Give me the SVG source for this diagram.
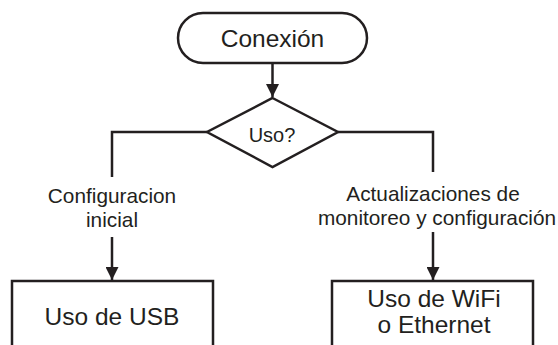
<svg xmlns="http://www.w3.org/2000/svg" width="558" height="345" viewBox="0 0 558 345">
<style>
.s{fill:#fff;stroke:#231f20;stroke-width:2.5}
.c{fill:none;stroke:#231f20;stroke-width:2.5}
.t{font-family:"Liberation Sans",Arial,sans-serif;fill:#231f20;text-anchor:middle}
.n{font-size:24.5px}
.l{font-size:20.8px}
</style>
<defs>
<marker id="ah" markerWidth="13" markerHeight="13" refX="13" refY="6.5" orient="auto" markerUnits="userSpaceOnUse">
<path d="M0,0 L13,6.5 L0,13 Z" fill="#231f20"/>
</marker>
</defs>
<g id="connectors">
<path class="c" d="M272.5,63 V97" marker-end="url(#ah)"/>
<path class="c" d="M207,132 H112 V177"/>
<path class="c" d="M112,237 V280" marker-end="url(#ah)"/>
<path class="c" d="M338,132 H433 V172"/>
<path class="c" d="M433,232 V280" marker-end="url(#ah)"/>
<text class="t l" x="112" y="203">Configuracion</text>
<text class="t l" x="112" y="227">inicial</text>
<text class="t l" x="433" y="201">Actualizaciones de</text>
<text class="t l" x="437" y="225">monitoreo y configuración</text>
</g>
<g id="conexion">
<rect class="s" x="178" y="13" width="189" height="50" rx="25" ry="25"/>
<text class="t n" x="272.5" y="47">Conexión</text>
</g>
<g id="uso">
<polygon class="s" points="272.5,98 338,132 272.5,167 207,132"/>
<text class="t" style="font-size:20px" x="272" y="142">Uso?</text>
</g>
<g id="usb">
<rect class="s" x="12" y="281" width="201" height="80"/>
<text class="t n" x="112" y="325">Uso de USB</text>
</g>
<g id="wifi">
<rect class="s" x="332" y="281" width="201" height="80"/>
<text class="t n" x="434" y="307">Uso de WiFi</text>
<text class="t n" x="434" y="333">o Ethernet</text>
</g>
</svg>
